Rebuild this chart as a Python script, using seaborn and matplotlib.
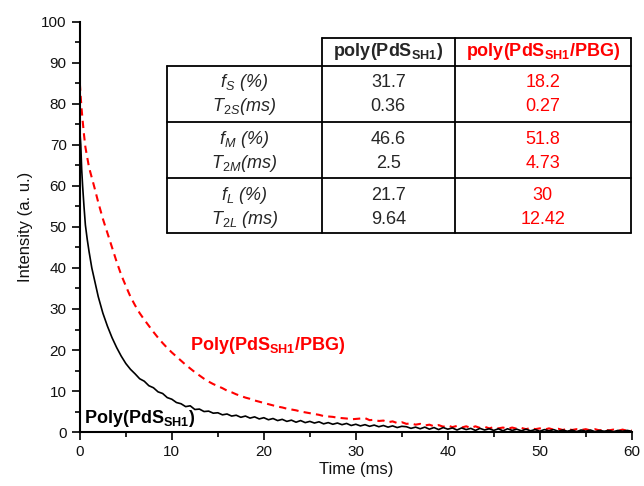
import numpy as np
import pandas as pd
import matplotlib
matplotlib.use('Agg')
import matplotlib.pyplot as plt
import seaborn as sns

# sampled times (ms): dense start, then every 0.5 ms
t_early = [0, 0.1, 0.2, 0.3, 0.45, 0.6, 0.8, 1.0, 1.3, 1.6, 2.0, 2.5, 3.0, 3.5, 4.0, 4.5]
t_late = list(np.arange(5.0, 60.01, 0.5))
time_ms = t_early + t_late

# Poly(PdS_SH1) decay
black_early = [73.4, 70.0, 64.0, 60.0, 55.0, 50.5, 47.0, 44.0, 40.0, 37.0, 33.0, 29.0, 25.8, 23.0, 20.6, 18.5]
black_late = [16.7, 15.3, 14.2, 13.0, 12.4, 11.3, 10.8, 9.8, 9.4, 8.4,
              8.0, 7.2, 6.9, 6.2, 6.4, 5.5, 5.6, 5.0, 5.1, 4.6,
              4.7, 4.2, 4.4, 3.9, 4.1, 3.6, 3.9, 3.4, 3.7, 3.2,
              3.5, 3.0, 3.3, 2.8, 3.1, 2.6, 2.9, 2.4, 2.8, 2.3,
              2.6, 2.2, 2.5, 2.0, 2.3, 1.9, 2.2, 1.8, 2.1, 1.6,
              1.9, 1.5, 1.8, 1.4, 1.7, 1.3, 1.6, 1.2, 1.5, 1.1,
              1.4,
              1.3, 0.9, 1.2, 0.8, 1.2, 0.7, 1.1, 0.6, 1.1, 0.7,
              1.0, 0.5, 1.0, 0.6, 0.9, 0.4, 0.9, 0.5, 0.8, 0.4,
              0.8, 0.3, 0.8, 0.4, 0.7, 0.3, 0.7, 0.3, 0.6, 0.2,
              0.6, 0.3, 0.6, 0.2, 0.5, 0.2, 0.5, 0.1, 0.5, 0.2,
              0.5, 0.1, 0.4, 0.2, 0.4, 0.1, 0.4, 0.2, 0.4, 0.2]

# Poly(PdS_SH1/PBG) decay
red_early = [85.0, 81.5, 78.5, 76.0, 72.5, 69.5, 67.0, 64.5, 62.0, 59.5, 56.0, 52.0, 48.5, 45.0, 41.5, 38.3]
red_late = [35.6, 33.0, 30.9, 29.0, 27.4, 25.9, 24.4, 23.0, 21.7, 20.5,
            19.4, 18.4, 17.4, 16.4, 15.5, 14.6, 13.8, 13.0, 12.3, 11.7,
            11.2, 10.7, 10.1, 9.7, 9.2, 8.8, 8.4, 8.1, 7.7, 7.4,
            7.1, 6.8, 6.5, 6.2, 6.0, 5.7, 5.5, 5.3, 5.0, 4.8,
            4.6, 4.4, 4.2, 3.9, 3.8, 3.7, 3.5, 3.4, 3.3, 3.1,
            3.2,
            3.3, 3.4, 2.9, 3.0, 2.7, 2.8, 2.4, 2.6, 2.2, 2.4,
            2.0, 2.1, 1.8, 2.0, 1.6, 1.8, 1.4, 1.7, 1.3, 1.6,
            1.2, 1.5, 1.1, 1.4, 1.0, 1.4, 1.0, 1.3, 0.9, 1.2,
            0.9, 1.1, 0.8, 1.1, 0.8, 1.0, 0.7, 1.0, 0.7, 0.9,
            0.6, 0.9, 0.6, 0.8, 0.5, 0.8, 0.5, 0.7, 0.5, 0.7,
            0.4, 0.7, 0.4, 0.6, 0.4, 0.6, 0.3, 0.6, 0.3, 0.4]

# fit table
row_labels = [r'f$_{\mathit{S}}$ (%)', r'T$_{\mathit{2S}}$(ms)',
              r'f$_{\mathit{M}}$ (%)', r'T$_{\mathit{2M}}$(ms)',
              r'f$_{\mathit{L}}$ (%)', r'T$_{\mathit{2L}}$ (ms)']
col_pds = ['31.7', '0.36', '46.6', '2.5', '21.7', '9.64']
col_pbg = ['18.2', '0.27', '51.8', '4.73', '30', '12.42']

df_black = pd.DataFrame({'t': time_ms, 'I': black_early + black_late})
df_red = pd.DataFrame({'t': time_ms, 'I': red_early + red_late})

sns.set_style('ticks')
plt.rcParams['font.family'] = ['Liberation Sans', 'DejaVu Sans']
plt.rcParams['mathtext.fontset'] = 'custom'
plt.rcParams['mathtext.rm'] = 'Liberation Sans'
plt.rcParams['mathtext.it'] = 'Liberation Sans:italic'
plt.rcParams['mathtext.bf'] = 'Liberation Sans:bold'

fig = plt.figure(figsize=(6.44, 4.86), dpi=100)
ax = fig.add_axes([0.124, 0.111, 0.857, 0.844])

sns.lineplot(data=df_red, x='t', y='I', color='red', linewidth=1.5,
             linestyle=(0, (3.5, 2.5)), errorbar=None, ax=ax)
sns.lineplot(data=df_black, x='t', y='I', color='black', linewidth=1.2,
             errorbar=None, ax=ax)

ax.set_xlim(0, 60)
ax.set_ylim(0, 100)
ax.set_xticks(range(0, 61, 10))
ax.set_xticks(range(0, 61, 5), minor=True)
ax.set_yticks(range(0, 101, 10))
ax.set_yticks(range(0, 101, 5), minor=True)
ax.tick_params(which='major', length=6, width=1.2, labelsize=11, color='black', labelcolor='#111111')
ax.tick_params(which='minor', length=3.5, width=1.2, color='black')
sns.despine(ax=ax)
for s in ['left', 'bottom']:
    ax.spines[s].set_linewidth(1.5)
    ax.spines[s].set_color('black')
ax.set_xlabel('Time (ms)', fontsize=12, labelpad=2, color='#111111')
ax.set_ylabel('Intensity (a. u.)', fontsize=12, labelpad=6, color='#111111')

# curve labels
ax.text(12.0, 21.2, r'Poly(PdS$_{\mathbf{SH1}}$/PBG)', color='red', fontsize=13,
        fontweight='bold', va='center', ha='left')
ax.text(0.5, 3.4, r'Poly(PdS$_{\mathbf{SH1}}$)', color='black', fontsize=13,
        fontweight='bold', va='center', ha='left')

# table grid (data coordinates)
x0, x1, x2, x3 = 9.46, 26.3, 40.76, 59.9
y_top, y_head, y_g1, y_g2, y_bot = 96.1, 89.3, 75.6, 62.0, 48.5
lk = dict(color='black', linewidth=1.3, clip_on=False)
ax.plot([x1, x3], [y_top, y_top], **lk)
for y in [y_head, y_g1, y_g2, y_bot]:
    ax.plot([x0, x3], [y, y], **lk)
ax.plot([x0, x0], [y_head, y_bot], **lk)
for x in [x1, x2, x3]:
    ax.plot([x, x], [y_top, y_bot], **lk)

ax.text((x1 + x2) / 2, (y_top + y_head) / 2, r'poly(PdS$_{\mathbf{SH1}}$)',
        fontsize=13, fontweight='bold', ha='center', va='center')
ax.text((x2 + x3) / 2, (y_top + y_head) / 2, r'poly(PdS$_{\mathbf{SH1}}$/PBG)',
        fontsize=13, fontweight='bold', ha='center', va='center', color='red')

row_y = [85.2, 79.4, 71.3, 65.5, 57.6, 51.9]
for lab, a, b, y in zip(row_labels, col_pds, col_pbg, row_y):
    ax.text((x0 + x1) / 2, y, lab, fontsize=13, ha='center', va='center', style='italic')
    ax.text((x1 + x2) / 2, y, a, fontsize=13, ha='center', va='center')
    ax.text((x2 + x3) / 2, y, b, fontsize=13, ha='center', va='center', color='red')

fig.savefig('out.png', dpi=100)
